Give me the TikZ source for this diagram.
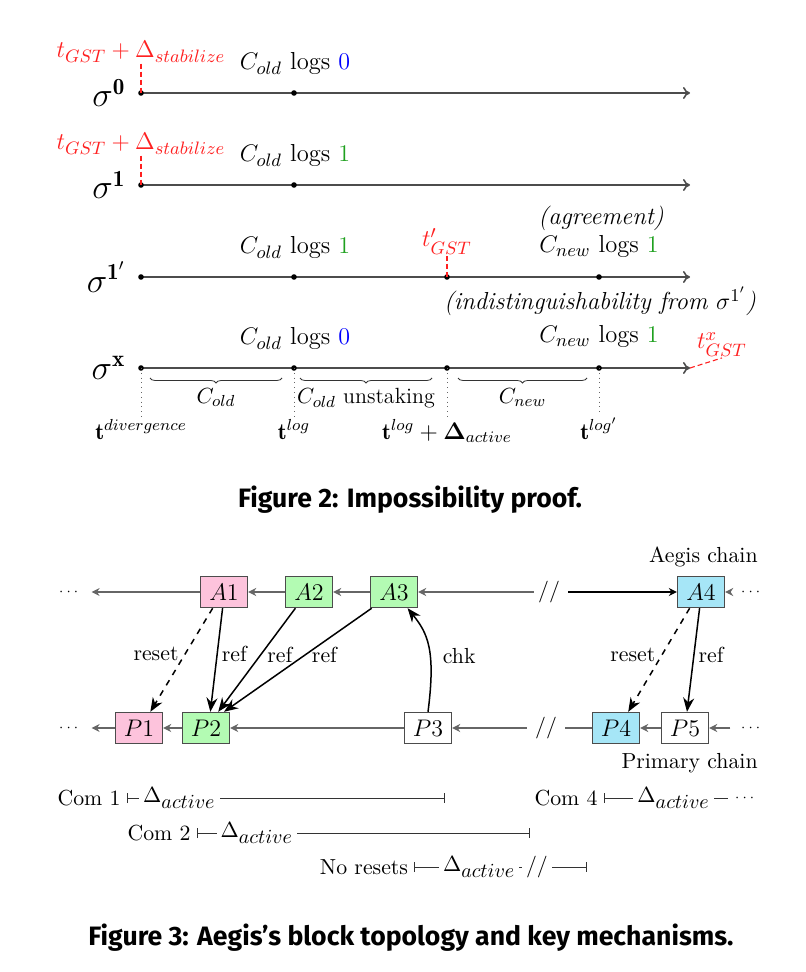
\documentclass[tikz,border=0pt]{standalone}
\usepackage{amsmath}
\usepackage{amssymb}
\usepackage{fontspec}
\newfontfamily\capfont{Fira Sans}
\usepackage{xcolor}
\usepackage{tikz}
\usetikzlibrary{arrows.meta,positioning,calc,decorations.pathreplacing}
\definecolor{aegispink}{HTML}{FDC3DC}
\definecolor{aegisgreen}{HTML}{B3FBB3}
\definecolor{aegiscyan}{HTML}{A6E6F7}
\definecolor{gstred}{HTML}{FF2020}
\definecolor{logsgreen}{HTML}{1FA01F}
\newcommand{\figfs}{\fontsize{12.3pt}{14pt}\selectfont}
\newcommand{\aegisfs}{\fontsize{10.9pt}{13pt}\selectfont}
\newcommand{\dact}{\Delta_{\text{\fontsize{10pt}{11pt}\selectfont$active$}}}
\tikzset{
  tline/.style={-{To[length=3.5pt,width=6pt]},draw=black!70,line width=0.8pt},
  tdot/.style={circle,fill=black,inner sep=0pt,minimum size=2.8pt},
  tgst/.style={draw=gstred,dash pattern=on 2.5pt off 1.5pt,line width=0.55pt},
  tgstlab/.style={text=gstred,font=\figfs,inner sep=0.5pt},
  tlab/.style={font=\figfs,inner sep=1pt},
  siglab/.style={font=\fontsize{16.5pt}{18pt}\selectfont,inner sep=0pt},
  ttick/.style={draw=black!60,dotted,thin},
  tbrace/.style={decorate,decoration={brace,mirror,amplitude=2.5pt},draw=black!80,thin},
  tbracelab/.style={font=\fontsize{11pt}{13pt}\selectfont,inner sep=1pt},
  tmark/.style={font=\fontsize{11.5pt}{13pt}\selectfont,inner sep=1pt},
  blk/.style={draw=black!70,line width=0.7pt,font=\fontsize{11.5pt}{13pt}\selectfont,minimum width=23.5pt,minimum height=15.5pt,inner sep=1pt},
  chain/.style={-{Stealth[length=4pt,width=4pt]},draw=black!60,line width=0.6pt},
  link/.style={-{Stealth[length=7pt,width=5.5pt]},draw=black,line width=0.75pt},
  linklab/.style={font=\aegisfs,inner sep=1pt},
  chdots/.style={font=\fontsize{7pt}{8pt}\selectfont,inner xsep=5pt,inner ysep=0pt},
  chbrk/.style={font=\aegisfs,inner xsep=4pt,inner ysep=0pt},
  comlab/.style={font=\aegisfs,inner xsep=3pt},
  ivl/.style={{Bar[width=5pt]}-{Bar[width=5pt]},draw=black!80,line width=0.5pt},
  ivlab/.style={font=\aegisfs,fill=white,inner sep=2pt},
  figcap/.style={font=\capfont\bfseries\fontsize{13.3pt}{15pt}\selectfont}
}
\begin{document}
\begin{tikzpicture}[x=0.5pt,y=-0.5pt]
\useasboundingbox (0,0) rectangle (806,972);
% Figure 2: timelines
\coordinate (r0a) at (141,93);  \coordinate (r0e) at (690,93);
\coordinate (r1a) at (141,185); \coordinate (r1e) at (690,185);
\coordinate (r2a) at (141,277); \coordinate (r2e) at (690,277);
\coordinate (r3a) at (141,368); \coordinate (r3e) at (690,368);
\foreach \r in {r0,r1,r2,r3}{\draw[tline] (\r a) -- (\r e);}
\node[tdot] (r0a) at (141,93) {};  \node[tdot] (r0b) at (294,93) {};
\node[tdot] (r1a) at (141,185) {}; \node[tdot] (r1b) at (294,185) {};
\node[tdot] (r2a) at (141,277) {}; \node[tdot] (r2b) at (294,277) {};
\node[tdot] (r2c) at (447,277) {}; \node[tdot] (r2d) at (599,277) {};
\node[tdot] (r3a) at (141,368) {}; \node[tdot] (r3b) at (294,368) {};
\node[tdot] (r3c) at (447,368) {}; \node[tdot] (r3d) at (599,368) {};
\node[siglab,left=6pt of r0a] (s0) {$\sigma^{\mathbf{0}}$};
\node[siglab,left=6pt of r1a] (s1) {$\sigma^{\mathbf{1}}$};
\node[siglab,left=6pt of r2a] (s2) {$\sigma^{\mathbf{1}'}$};
\node[siglab,left=6pt of r3a] (s3) {$\sigma^{\mathbf{x}}$};
% labels above the lines
\node[tgstlab,anchor=base] (g0) at (141,58) {$t_{GST}+\Delta_{stabilize}$};
\node[tgstlab,anchor=base] (g1) at (141,150) {$t_{GST}+\Delta_{stabilize}$};
\draw[tgst] (g0.south) -- (r0a.center);
\draw[tgst] (g1.south) -- (r1a.center);
\node[tlab,anchor=base] (c0) at (295,70) {$C_{old}$ logs \textcolor{blue}{$0$}};
\node[tlab,anchor=base] (c1) at (295,162) {$C_{old}$ logs \textcolor{logsgreen}{$1$}};
\node[tlab,anchor=base] (c2) at (295,254) {$C_{old}$ logs \textcolor{logsgreen}{$1$}};
\node[tlab,anchor=base] (c3) at (295,345) {$C_{old}$ logs \textcolor{blue}{$0$}};
\node[tgstlab,anchor=base] (gp) at (447,247) {$t'_{GST}$};
\draw[tgst] (gp.south) -- (r2c.center);
\node[tlab,anchor=base] (agr) at (601,225) {\textit{(agreement)}};
\node[tlab,anchor=base] (n2) at (599,253) {$C_{new}$ logs \textcolor{logsgreen}{$1$}};
\node[tlab,anchor=base] (ind) at (600,310) {\textit{(indistinguishability from $\sigma^{1'}$)}};
\node[tlab,anchor=base] (n3) at (599,343) {$C_{new}$ logs \textcolor{logsgreen}{$1$}};
\node[tgstlab,anchor=base] (gx) at (722,349) {$t^{x}_{GST}$};
\draw[tgst] (r3e) -- (gx.south);
% braces and marks
\draw[tbrace] (150,378) -- node[tbracelab,below=4pt] (bo) {$C_{old}$} (282,378);
\draw[tbrace] (300,378) -- node[tbracelab,below=4pt] (bu) {$C_{old}$ unstaking} (432,378);
\draw[tbrace] (458,378) -- node[tbracelab,below=4pt] (bn) {$C_{new}$} (587,378);
\node[tmark,anchor=base] (td) at (141,439) {$\mathbf{t}^{divergence}$};
\node[tmark,anchor=base] (tl) at (294,439) {$\mathbf{t}^{log}$};
\node[tmark,anchor=base] (ta) at (447,439) {$\mathbf{t}^{log}+\boldsymbol{\Delta}_{active}$};
\node[tmark,anchor=base] (tp) at (599,439) {$\mathbf{t}^{log'}$};
\draw[ttick] (r3a.center) -- (td.north);
\draw[ttick] (r3b.center) -- (tl.north);
\draw[ttick] (r3c.center) -- (ta.north);
\draw[ttick] (r3d.center) -- (tp.north);
\node[figcap,anchor=base] (cap2) at (410,507) {Figure 2: Impossibility proof.};
% Figure 3: block topology
\node[blk,fill=aegispink] (A1) at (224,592) {$A1$};
\node[blk,fill=aegisgreen] (A2) at (309,592) {$A2$};
\node[blk,fill=aegisgreen] (A3) at (394,592) {$A3$};
\node[blk,fill=aegiscyan] (A4) at (701,592) {$A4$};
\node[blk,fill=aegispink] (P1) at (139,728) {$P1$};
\node[blk,fill=aegisgreen] (P2) at (206,728) {$P2$};
\node[blk,fill=white] (P3) at (428,728) {$P3$};
\node[blk,fill=aegiscyan] (P4) at (616,728) {$P4$};
\node[blk,fill=white] (P5) at (685,728) {$P5$};
\node[chdots] (dAl) at (70,592) {$\cdots$};
\node[chdots] (dAr) at (752,592) {$\cdots$};
\node[chdots] (dPl) at (70,728) {$\cdots$};
\node[chdots] (dPr) at (752,728) {$\cdots$};
\node[chbrk,inner xsep=2pt] (kA) at (549,592) {//};
\node[chbrk] (kP) at (546,728) {//};
\node[linklab,anchor=base east] (achain) at (760,562) {Aegis chain};
\node[linklab,anchor=base east] (pchain) at (760,768) {Primary chain};
\draw[chain] (A1) -- (dAl);
\draw[chain] (A2) -- (A1);
\draw[chain] (A3) -- (A2);
\draw[chain] (kA) -- (A3);
\draw[chain,draw=black,shorten <=2pt] (kA) -- (A4);
\draw[chain] (dAr) -- (A4);
\draw[chain] (P1) -- (dPl);
\draw[chain] (P2) -- (P1);
\draw[chain] (P3) -- (P2);
\draw[chain] (kP) -- (P3);
\draw[chain,-] (P4) -- (kP);
\draw[chain] (P5) -- (P4);
\draw[chain] (dPr) -- (P5);
% reset / ref / chk
\draw[link,dashed] (A1.235) -- node[linklab,left=2pt,pos=0.44] {reset} (P1.55);
\draw[link] (A1.265) -- node[linklab,right=1pt,pos=0.44] {ref} (P2.75);
\draw[link] (A2.230) -- node[linklab,right=2pt,pos=0.45] {ref} (P2.53);
\draw[link] (A3.216) -- node[linklab,right=2pt,pos=0.45] {ref} (P2.42);
\draw[link] (P3.north) .. controls +(8,-62) and +(20,25) .. node[linklab,right=5pt,pos=0.4] {chk} (A3.310);
\draw[link,dashed] (A4.235) -- node[linklab,left=2pt,pos=0.45] {reset} (P4.53);
\draw[link] (A4.265) -- node[linklab,right=1pt,pos=0.45] {ref} (P5.83);
% committee periods
\node[comlab] (com1) at (89,798) {Com 1};
\coordinate (e1) at (445,798);
\draw[ivl] (com1.east) -- node[ivlab,pos=0.165] {$\dact$} (e1);
\node[comlab] (com4) at (566,798) {Com 4};
\node[chdots,inner xsep=3pt] (d4) at (746,798) {$\cdots$};
\draw[ivl,{Bar[width=5pt]}-] (com4.east) -- node[ivlab,pos=0.56] {$\dact$} (d4.west);
\node[comlab] (com2) at (159,833) {Com 2};
\coordinate (e2) at (530,833);
\draw[ivl] (com2.east) -- node[ivlab,pos=0.18] {$\dact$} (e2);
\node[comlab] (nres) at (364,867) {No resets};
\coordinate (e3) at (587,867);
\draw[ivl] (nres.east) -- node[ivlab,pos=0.375] {$\dact$} node[ivlab,pos=0.71] {//} (e3);
\node[figcap,anchor=base] (cap3) at (411,945) {Figure 3: Aegis’s block topology and key mechanisms.};
\end{tikzpicture}
\end{document}
